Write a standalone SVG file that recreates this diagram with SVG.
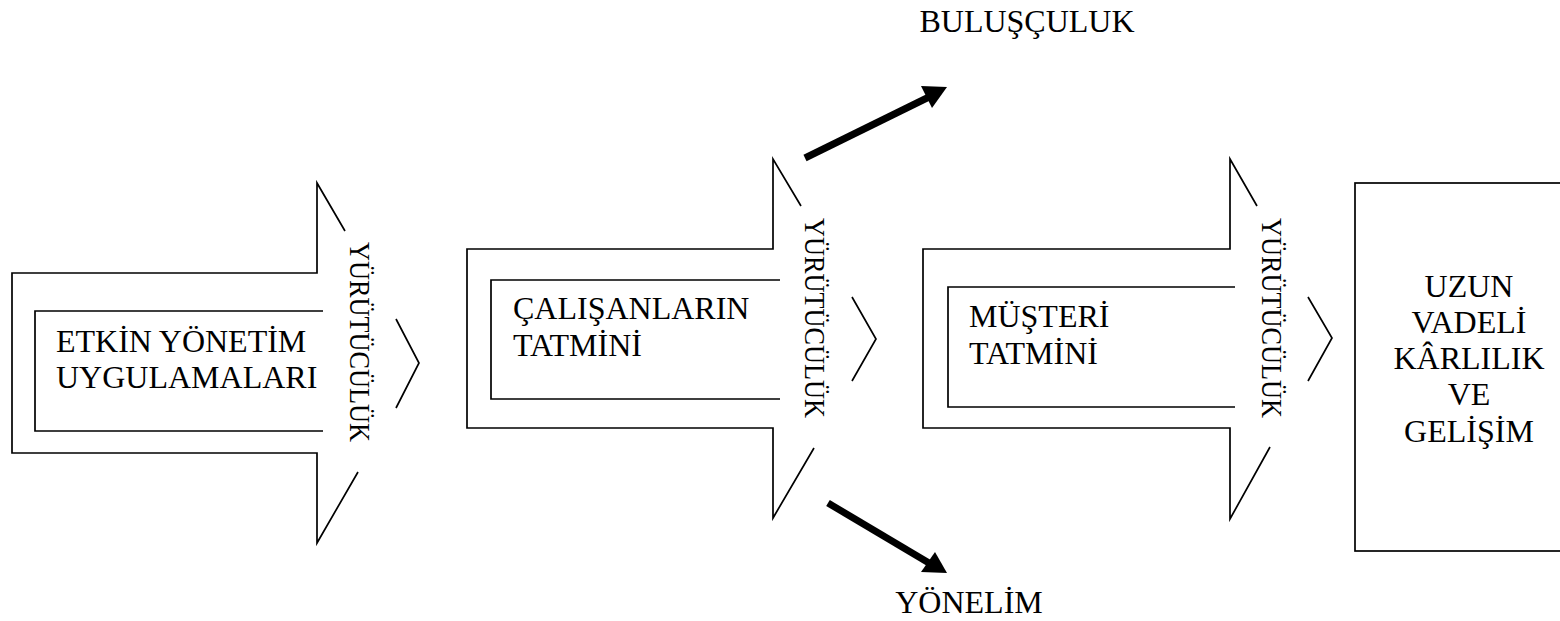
<svg xmlns="http://www.w3.org/2000/svg" width="1560" height="621" viewBox="0 0 1560 621">
<style>
.ln{fill:none;stroke:#000;stroke-width:1.7;stroke-linejoin:miter}
.t{font-family:"Liberation Serif","Times New Roman",serif;font-size:32px;fill:#000}
.v{font-family:"Liberation Serif","Times New Roman",serif;font-size:29px;fill:#000;text-anchor:middle}
.c{text-anchor:middle}
.sh{stroke:#000;stroke-width:7;fill:none}
</style>
<rect width="1560" height="621" fill="#fff"/>
<g id="node-etkin">
<polyline class="ln" points="345,231 317,183 317,273 12,273 12,453 317,453 317,543 358,472"/>
<polyline class="ln" points="396,319 419,363 396,408"/>
<path class="ln" d="M323,311 H35 V431 H323"/>
<text class="t" x="56" y="352">ETKİN YÖNETİM</text>
<text class="t" x="56" y="388">UYGULAMALARI</text>
<text class="v" transform="translate(350,342) rotate(90)" textLength="200" lengthAdjust="spacingAndGlyphs">YÜRÜTÜCÜLÜK</text>
</g>
<g id="node-calisan">
<polyline class="ln" points="801,206 773,159 773,249 467,249 467,428 773,428 773,518 814,448"/>
<polyline class="ln" points="852,297 876,339 852,381"/>
<path class="ln" d="M780,280 H491 V399 H780"/>
<text class="t" x="513" y="319">ÇALIŞANLARIN</text>
<text class="t" x="513" y="356">TATMİNİ</text>
<text class="v" transform="translate(805,318) rotate(90)" textLength="200" lengthAdjust="spacingAndGlyphs">YÜRÜTÜCÜLÜK</text>
</g>
<g id="node-musteri">
<polyline class="ln" points="1257,206 1230,159 1230,249 923,249 923,428 1230,428 1230,519 1270,447"/>
<polyline class="ln" points="1308,297 1332,338 1308,381"/>
<path class="ln" d="M1235,287 H948 V407 H1235"/>
<text class="t" x="969" y="327">MÜŞTERİ</text>
<text class="t" x="969" y="364">TATMİNİ</text>
<text class="v" transform="translate(1262,318) rotate(90)" textLength="200" lengthAdjust="spacingAndGlyphs">YÜRÜTÜCÜLÜK</text>
</g>
<g id="node-uzun">
<rect class="ln" x="1355" y="183" width="215" height="368"/>
<text class="t c" x="1469" y="297">UZUN</text>
<text class="t c" x="1469" y="333">VADELİ</text>
<text class="t c" x="1469" y="369">KÂRLILIK</text>
<text class="t c" x="1469" y="405">VE</text>
<text class="t c" x="1469" y="442">GELİŞİM</text>
</g>
<g id="node-buluscu">
<text class="t c" x="1027" y="32">BULUŞÇULUK</text>
</g>
<g id="node-yonelim">
<text class="t c" x="969" y="613">YÖNELİM</text>
</g>
<g id="connectors">
<line class="sh" x1="805" y1="158" x2="929" y2="97"/>
<polygon points="947,87 921,86 932,108" fill="#000"/>
<line class="sh" x1="828" y1="503" x2="929" y2="563"/>
<polygon points="947,573 921,572 935,552" fill="#000"/>
</g>
</svg>
